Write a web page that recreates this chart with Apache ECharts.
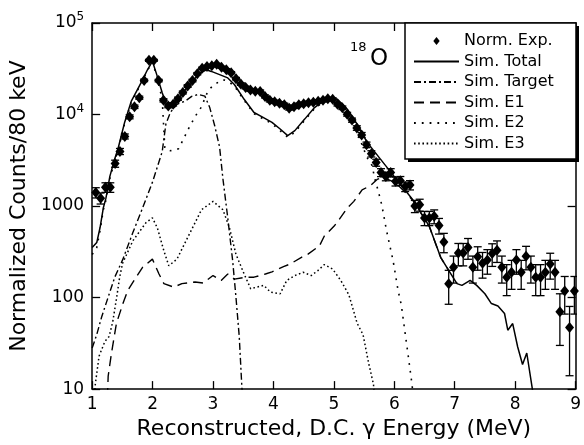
<!DOCTYPE html>
<html><head><meta charset="utf-8">
<script src="https://cdn.jsdelivr.net/npm/echarts@6/dist/echarts.min.js"></script>
<style>html,body{margin:0;padding:0;background:#fff}#c{width:584px;height:445px}</style>
</head><body><div id="c"></div>
<script>
// ---- Data ----
const expE = [1.06,1.14,1.22,1.30,1.38,1.46,1.54,1.62,1.70,1.78,
1.86,1.94,2.02,2.10,2.18,2.26,2.34,2.42,2.50,2.58,
2.66,2.74,2.82,2.90,2.98,3.06,3.14,3.22,3.30,3.38,
3.46,3.54,3.62,3.70,3.78,3.86,3.94,4.02,4.10,4.18,
4.26,4.34,4.42,4.50,4.58,4.66,4.74,4.82,4.90,4.98,
5.06,5.14,5.22,5.30,5.38,5.46,5.54,5.62,5.70,5.78,
5.86,5.94,6.02,6.10,6.18,6.26,6.34,6.42,6.50,6.58,
6.66,6.74,6.82,6.90,6.98,7.06,7.14,7.22,7.30,7.38,
7.46,7.54,7.62,7.70,7.78,7.86,7.94,8.02,8.10,8.18,
8.26,8.34,8.42,8.50,8.58,8.66,8.74,8.82,8.90,8.98];
const expVal = [1406,1220,1603,1603,2911,3954,5768,9440,12160,15280,
23600,39080,39080,23500,14290,12400,12940,14900,17420,20480,
23500,27930,32050,33500,34100,35400,32800,30850,28650,24670,
21530,19730,18540,17990,17900,15780,14290,13760,13260,12770,
11720,12160,12770,13090,13420,13590,13930,14290,14830,14650,
12940,11860,10090,8690,7130,5990,4670,3730,2985,2328,
2108,2328,1862,1893,1632,1698,1000,1033,742,742,
774,613,406,141.5,214,306,306,352,214,279,
237,257,303,329,214,167,189,257,189,282,
214,167,167,189,232,189,70,118,47,118];
const expErr = [180,168,192,192,259,302,364,466,529,593,
737,949,949,735,574,535,546,586,634,687,
735,802,859,879,886,903,869,843,812,754,
704,674,654,644,642,603,574,563,553,542,
520,529,542,549,556,560,566,574,585,581,
546,523,482,447,405,371,328,293,262,232,
220,232,207,209,194,198,152,154,131,131,
134,119,97,57,70,84,84,90,70,80,
74,77,84,87,70,62,66,77,66,81,
70,62,62,66,73,66,40,52,33,52];

const totalE = [1.00,1.076,1.13,1.184,1.228,1.293,1.374,1.428,1.537,1.646,1.808,1.915,1.997,2.078,2.159,2.236,2.296,2.459,2.647,2.810,2.891,2.972,3.109,3.244,3.353,3.515,3.678,3.813,3.976,4.111,4.236,4.354,4.517,4.680,4.816,4.951,5.060,5.223,5.385,5.548,5.764,6.024,6.306,6.577,6.767,6.902,7.037,7.119,7.255,7.363,7.499,7.607,7.715,7.824,7.878,7.959,8.041,8.122,8.192,8.285,8.35];
const totalV = [352,399,579,951,1219,2108,3296,4227,8200,13930,22180,30830,38100,26120,17300,12390,12220,15880,23070,28840,30830,29580,27300,25120,21290,14660,10520,9440,8200,6950,5890,6670,8910,11910,14030,15280,14660,11430,7870,4990,3296,2005,1170,604,275,197,142,136,154,136,110,86,81,67,44,52,29,18.6,24.8,10,5];

const targetE = [1.00,1.076,1.158,1.239,1.374,1.509,1.672,1.834,1.997,2.159,2.220,2.296,2.403,2.540,2.647,2.756,2.865,2.946,3.028,3.109,3.163,3.244,3.325,3.379,3.434,3.476,3.49];
const targetV = [28.1,39.5,61.8,89.8,167,263,511,951,1815,3926,7870,10600,12940,14030,15780,16600,15880,11910,7540,4400,2005,741,253,102,37.6,10.9,8];

const e1E = [1.252,1.265,1.320,1.402,1.509,1.590,1.727,1.834,1.997,2.106,2.187,2.350,2.485,2.702,2.837,3.000,3.135,3.244,3.353,3.541,3.678,3.867,3.976,4.166,4.273,4.463,4.572,4.761,4.842,5.005,5.086,5.223,5.330,5.467,5.602,5.715,5.792,5.894,6.024,6.306,6.577,6.767,6.902];
const e1V = [8,13.9,24.8,52.4,86,120,167,214,263,181,142,130,142,148,144,174,154,181,159,167,167,181,191,218,232,275,298,367,471,604,711,951,1125,1500,1671,1954,2056,1954,1795,1160,604,275,197];

const e2E = [1.00,1.076,1.13,1.184,1.228,1.293,1.374,1.428,1.537,1.646,1.808,1.915,1.997,2.078,2.159,2.203,2.301,2.431,2.593,2.707,2.805,2.919,3.028,3.109,3.163,3.244,3.353,3.515,3.678,3.813,3.976,4.111,4.236,4.354,4.517,4.680,4.816,4.951,5.060,5.223,5.385,5.548,5.630,5.683,5.736,5.792,5.873,5.980,6.062,6.117,6.171,6.224,6.296,6.31];
const e2V = [296,352,537,905,1161,2005,3140,4074,7960,13590,21630,30330,37400,24990,14660,4227,4018,4227,6950,9600,12000,18320,21500,22900,24000,23200,20500,14260,10220,9090,7950,6650,5650,6400,8650,11600,13650,14850,14150,10700,6400,3400,2790,1923,1443,1033,533,253,120,82.6,44.5,24.8,10.9,8];

const e3E = [1.04,1.049,1.114,1.211,1.281,1.341,1.407,1.455,1.504,1.672,1.889,1.997,2.078,2.187,2.268,2.403,2.593,2.810,3.000,3.163,3.272,3.379,3.515,3.623,3.841,3.948,4.111,4.220,4.354,4.491,4.626,4.735,4.842,4.979,5.114,5.249,5.385,5.483,5.574,5.655,5.675];
const e3V = [8,10.9,22.9,33.2,37.6,54.6,102,167,237,416,656,742,579,324,223,263,471,912,1125,912,579,298,181,125,136,115,110,154,174,189,174,197,229,205,154,107,52.4,39.3,19.4,11.3,8];

const seriesNames = ['Norm. Exp.','Sim. Total','Sim. Target','Sim. E1','Sim. E2','Sim. E3'];
const yTicks = [10,100,1000,10000,100000];
const yTickText = ['10','100','1000','10{s|4}','10{s|5}'];
const xTitle = 'Reconstructed, D.C. \u03b3 Energy (MeV)';
const yTitle = 'Normalized Counts/80 keV';

// ---- Chart ----
const FONT = 'DejaVu Sans';
const zip = (a, b) => a.map((x, i) => [x, b[i]]);
const chart = echarts.init(document.getElementById('c'), null, {renderer: 'canvas'});

function lineSeries(name, E, V, type, width) {
  return {
    name, type: 'line', data: zip(E, V), symbol: 'none', showSymbol: false,
    clip: true, z: 3,
    lineStyle: {color: '#000', width: width, type: type, cap: 'butt'},
    itemStyle: {color: '#000'}
  };
}

const axisCommon = {
  axisLine: {show: true, onZero: false, lineStyle: {color: '#000', width: 1.5}},
  axisTick: {show: true, inside: true, length: 8, lineStyle: {color: '#000', width: 1.3}},
  splitLine: {show: false},
  minorTick: {show: false}
};

const noSym = {opacity: 0, color: 'rgba(0,0,0,0)', borderWidth: 0};

const option = {
  animation: false,
  backgroundColor: '#fff',
  grid: {left: 87, right: 5, top: 23, bottom: 52, containLabel: false},
  xAxis: [
    Object.assign({
      type: 'value', min: 1, max: 9, interval: 1, position: 'bottom',
      axisLabel: {color: '#000', fontFamily: FONT, fontSize: 17, margin: 7},
      name: xTitle, nameLocation: 'middle', nameGap: 28,
      nameTextStyle: {color: '#000', fontFamily: FONT, fontSize: 22}
    }, axisCommon),
    Object.assign({
      type: 'value', min: 1, max: 9, interval: 1, position: 'top',
      axisLabel: {show: false}
    }, axisCommon)
  ],
  yAxis: [
    Object.assign({
      type: 'log', logBase: 10, min: 10, max: 100000, position: 'left',
      axisLabel: {
        color: '#000', fontFamily: FONT, fontSize: 17, margin: 8,
        formatter: v => { const i = yTicks.indexOf(Math.round(v)); return i >= 0 ? yTickText[i] : ''; },
        rich: {s: {fontFamily: FONT, fontSize: 12, padding: [0, 0, 12, 0]}}
      },
      name: yTitle, nameLocation: 'middle', nameGap: 57, nameRotate: 90,
      nameTextStyle: {color: '#000', fontFamily: FONT, fontSize: 22}
    }, axisCommon),
    Object.assign({
      type: 'log', logBase: 10, min: 10, max: 100000, position: 'right',
      axisLabel: {show: false}
    }, axisCommon)
  ],
  legend: {
    show: true, orient: 'vertical', left: 413, top: 33, padding: 0,
    itemWidth: 45, itemHeight: 8, itemGap: 4.5, z: 200, selectedMode: false,
    textStyle: {color: '#000', fontFamily: FONT, fontSize: 16, lineHeight: 16},
    data: [
      {name: seriesNames[0], icon: 'path://M0,0L4,5L0,10L-4,5Z'},
      {name: seriesNames[1], itemStyle: noSym},
      {name: seriesNames[2], itemStyle: noSym},
      {name: seriesNames[3], itemStyle: noSym},
      {name: seriesNames[4], itemStyle: noSym},
      {name: seriesNames[5], itemStyle: noSym}
    ]
  },
  graphic: {elements: [
    {type: 'rect', z: 100, shape: {x: 408, y: 26, width: 171, height: 136}, style: {fill: '#000'}},
    {type: 'rect', z: 101, shape: {x: 405, y: 23, width: 171, height: 136}, style: {fill: '#fff', stroke: '#000', lineWidth: 1.5}},
    {type: 'text', z: 50, x: 350, y: 41, style: {text: '18', fontFamily: FONT, fontSize: 13, fill: '#000'}},
    {type: 'text', z: 50, x: 370, y: 48, style: {text: 'O', fontFamily: FONT, fontSize: 23, fill: '#000'}}
  ]},
  series: [
    {
      name: 'errbars', type: 'custom', clip: true, z: 4, silent: true,
      data: expE.map((x, i) => [x, expVal[i] - expErr[i], expVal[i] + expErr[i]]),
      encode: {x: 0, y: [1, 2]},
      renderItem: function (params, api) {
        const x = api.value(0), lo = api.value(1), hi = api.value(2);
        const p1 = api.coord([x, hi]), p2 = api.coord([x, lo]);
        const w = 4, st = {stroke: '#000', lineWidth: 1.3};
        return {type: 'group', children: [
          {type: 'line', shape: {x1: p1[0], y1: p1[1], x2: p2[0], y2: p2[1]}, style: st},
          {type: 'line', shape: {x1: p1[0] - w, y1: p1[1], x2: p1[0] + w, y2: p1[1]}, style: st},
          {type: 'line', shape: {x1: p2[0] - w, y1: p2[1], x2: p2[0] + w, y2: p2[1]}, style: st}
        ]};
      }
    },
    {
      name: seriesNames[0], type: 'scatter', data: zip(expE, expVal), z: 5,
      symbol: 'diamond', symbolSize: [9, 11], itemStyle: {color: '#000', opacity: 1}, clip: true
    },
    lineSeries(seriesNames[1], totalE, totalV, 'solid', 1.5),
    lineSeries(seriesNames[2], targetE, targetV, [7, 3, 2, 3], 1.4),
    lineSeries(seriesNames[3], e1E, e1V, [10, 6], 1.4),
    lineSeries(seriesNames[4], e2E, e2V, [1.8, 6], 1.6),
    lineSeries(seriesNames[5], e3E, e3V, [1.6, 2.6], 1.5)
  ]
};
chart.setOption(option);
</script>
</body></html>
